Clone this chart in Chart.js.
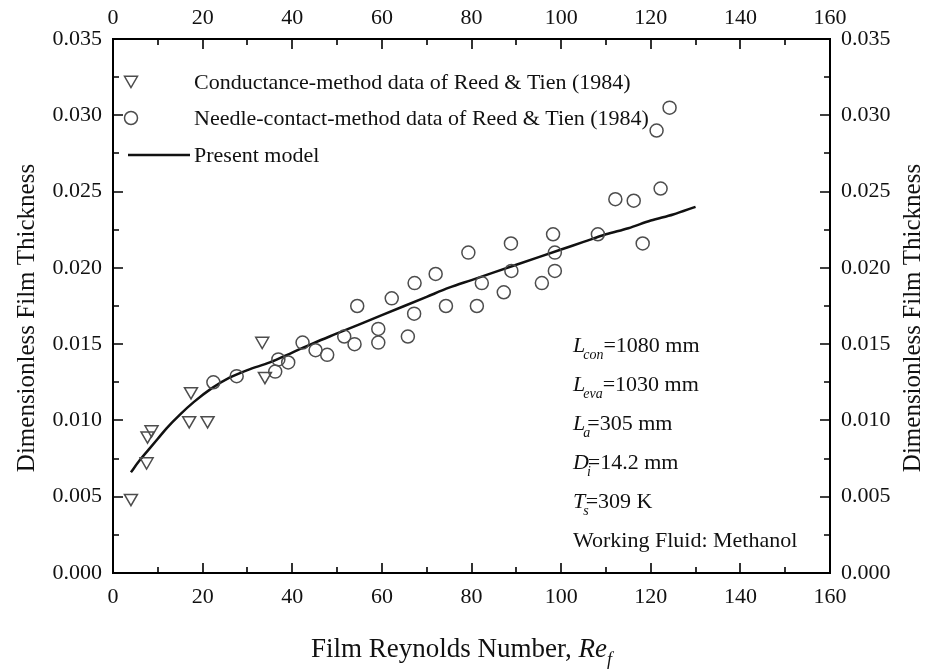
<!DOCTYPE html>
<html>
<head>
<meta charset="utf-8">
<script src="https://cdn.jsdelivr.net/npm/chart.js@4.4.1/dist/chart.umd.min.js"></script>
<style>
    html, body { margin: 0; padding: 0; background: #fff; }
    #wrap { width: 941px; height: 669px; }
</style>
</head>
<body>
<div id="wrap"><canvas id="chart" width="941" height="669"></canvas></div>
<script>
// Conductance-method data (Reed & Tien, 1984)
const condRe = [4.0, 7.5, 7.7, 8.6, 17.0, 17.4, 21.1, 33.3, 33.9];
const condDelta = [0.0049, 0.0073, 0.0090, 0.0094, 0.0100, 0.0119, 0.0100, 0.0152, 0.0129];

// Needle-contact-method data (Reed & Tien, 1984)
const needleRe = [22.4, 27.6, 36.2, 36.9, 39.1, 42.3, 45.2, 47.8, 51.6, 53.9, 54.5, 59.2, 59.2, 62.2,
    65.8, 67.3, 67.2, 72.0, 74.3, 79.3, 82.3, 81.2, 88.8, 88.9, 87.2, 95.7, 98.2, 98.6, 98.6,
    108.2, 112.1, 116.2, 122.2, 118.2, 121.3, 124.2];
const needleDelta = [0.0125, 0.0129, 0.0132, 0.0140, 0.0138, 0.0151, 0.0146, 0.0143, 0.0155, 0.0150, 0.0175, 0.0160, 0.0151, 0.0180,
    0.0155, 0.0190, 0.0170, 0.0196, 0.0175, 0.0210, 0.0190, 0.0175, 0.0216, 0.0198, 0.0184, 0.0190, 0.0222, 0.0210, 0.0198,
    0.0222, 0.0245, 0.0244, 0.0252, 0.0216, 0.0290, 0.0305];

// Present model curve
const modelRe = [4, 6, 8, 10, 12, 15, 18, 22, 26, 30, 35, 40, 45, 50, 55, 60, 65, 70, 75, 80,
    85, 90, 95, 100, 105, 110, 115, 120, 125, 130];
const modelDelta = [0.0066, 0.0074, 0.0081, 0.0088, 0.0095, 0.0104, 0.0112, 0.0121, 0.0128, 0.0133, 0.0138, 0.01445, 0.0151, 0.0157, 0.0163,
    0.0169, 0.0175, 0.0181, 0.0187, 0.0192, 0.0197, 0.0202, 0.0207, 0.0212, 0.0217, 0.0222, 0.0226, 0.0231, 0.0235, 0.0240];

const legendLabels = [
    'Conductance-method data of Reed & Tien (1984)',
    'Needle-contact-method data of Reed & Tien (1984)',
    'Present model'
];

// parameter block: [symbol, subscript, rest]
const paramLines = [
    ['L', 'con', '=1080 mm'],
    ['L', 'eva', '=1030 mm'],
    ['L', 'a', '=305 mm'],
    ['D', 'i', '=14.2 mm'],
    ['T', 's', '=309 K'],
    ['', '', 'Working Fluid: Methanol']
];

const reMin = 0, reMax = 160, reStep = 20;
const deltaMin = 0, deltaMax = 0.035, deltaStep = 0.005;

const SERIF = '"Liberation Serif", "Times New Roman", serif';
const markColor = '#4d4d4d';

const pairs = (xs, ys) => xs.map((x, i) => ({ x: x, y: ys[i] }));

function tickFont(size) {
    return { family: SERIF, size: size };
}

function drawTriangle(ctx, x, y, r) {
    ctx.beginPath();
    ctx.moveTo(x, y + r);
    ctx.lineTo(x - r * Math.sin(Math.PI / 3), y - r / 2);
    ctx.lineTo(x + r * Math.sin(Math.PI / 3), y - r / 2);
    ctx.closePath();
    ctx.stroke();
}

// inward major/minor tick marks on all four sides
const innerTicks = {
    id: 'innerTicks',
    afterDatasetsDraw(chart) {
        const { ctx, chartArea: a, scales } = chart;
        ctx.save();
        ctx.strokeStyle = '#000';
        ctx.lineWidth = 1.6;
        ctx.beginPath();
        for (let v = reMin; v <= reMax; v += reStep / 2) {
            const x = Math.round(scales.x.getPixelForValue(v));
            const len = v % reStep === 0 ? 10 : 6;
            ctx.moveTo(x, a.bottom); ctx.lineTo(x, a.bottom - len);
            ctx.moveTo(x, a.top); ctx.lineTo(x, a.top + len);
        }
        const n = Math.round((deltaMax - deltaMin) / (deltaStep / 2));
        for (let i = 0; i <= n; i++) {
            const v = deltaMin + i * deltaStep / 2;
            const y = Math.round(scales.y.getPixelForValue(v));
            const len = i % 2 === 0 ? 10 : 6;
            ctx.moveTo(a.left, y); ctx.lineTo(a.left + len, y);
            ctx.moveTo(a.right, y); ctx.lineTo(a.right - len, y);
        }
        ctx.stroke();
        ctx.restore();
    }
};

// axis titles, legend and parameter block
const decorations = {
    id: 'decorations',
    afterDraw(chart) {
        const { ctx, chartArea: a } = chart;
        ctx.save();
        ctx.fillStyle = '#111';

        // y titles on both sides, reading upwards
        ctx.font = '25px ' + SERIF;
        ctx.textAlign = 'center';
        ctx.textBaseline = 'middle';
        [27, 913].forEach(cx => {
            ctx.save();
            ctx.translate(cx, 318);
            ctx.rotate(-Math.PI / 2);
            ctx.fillText('Dimensionless Film Thickness', 0, 0);
            ctx.restore();
        });

        // x title with italic Re_f
        ctx.textAlign = 'left';
        ctx.textBaseline = 'alphabetic';
        const part1 = 'Film Reynolds Number, ';
        ctx.font = '27px ' + SERIF;
        const w1 = ctx.measureText(part1).width;
        ctx.font = 'italic 27px ' + SERIF;
        const w2 = ctx.measureText('Re').width;
        ctx.font = 'italic 18px ' + SERIF;
        const w3 = ctx.measureText('f').width;
        let tx = (a.left + a.right) / 2 - (w1 + w2 + w3) / 2 - 10;
        const ty = 657;
        ctx.font = '27px ' + SERIF;
        ctx.fillText(part1, tx, ty);
        tx += w1;
        ctx.font = 'italic 27px ' + SERIF;
        ctx.fillText('Re', tx, ty);
        tx += w2;
        ctx.font = 'italic 18px ' + SERIF;
        ctx.fillText('f', tx, ty + 8);

        // legend
        ctx.strokeStyle = markColor;
        ctx.lineWidth = 1.5;
        drawTriangle(ctx, 131, 80, 7.5);
        ctx.beginPath();
        ctx.arc(131, 118, 6.5, 0, Math.PI * 2);
        ctx.stroke();
        ctx.strokeStyle = '#111';
        ctx.lineWidth = 2.5;
        ctx.beginPath();
        ctx.moveTo(128, 155);
        ctx.lineTo(190, 155);
        ctx.stroke();
        ctx.font = '22px ' + SERIF;
        ctx.textBaseline = 'middle';
        legendLabels.forEach((t, i) => {
            ctx.fillText(t, 194, [83, 119, 156][i]);
        });

        // parameter block
        ctx.textBaseline = 'alphabetic';
        paramLines.forEach((p, i) => {
            let x = 573;
            const y = 352 + i * 39;
            if (p[0]) {
                ctx.font = 'italic 22px ' + SERIF;
                ctx.fillText(p[0], x, y);
                x += ctx.measureText(p[0]).width - 2;
                ctx.font = 'italic 14px ' + SERIF;
                ctx.fillText(p[1], x, y + 7);
                x += ctx.measureText(p[1]).width - (p[1].length === 1 ? 3 : 0);
            }
            ctx.font = '22px ' + SERIF;
            ctx.fillText(p[2], x, y);
        });
        ctx.restore();
    }
};

const fixedSize = (w, h) => function (scale) {
    if (w !== null) scale.width = w;
    if (h !== null) scale.height = h;
};

const axisBorder = { display: true, color: '#000', width: 2 };

new Chart(document.getElementById('chart'), {
    type: 'scatter',
    data: {
        datasets: [
            {
                label: legendLabels[0],
                data: pairs(condRe, condDelta),
                pointStyle: 'triangle',
                rotation: 180,
                pointRadius: 7.5,
                pointBorderWidth: 1.5,
                borderColor: markColor,
                backgroundColor: 'rgba(0,0,0,0)',
                showLine: false
            },
            {
                label: legendLabels[1],
                data: pairs(needleRe, needleDelta),
                pointStyle: 'circle',
                pointRadius: 6.5,
                pointBorderWidth: 1.5,
                borderColor: markColor,
                backgroundColor: 'rgba(0,0,0,0)',
                showLine: false
            },
            {
                label: legendLabels[2],
                data: pairs(modelRe, modelDelta),
                showLine: true,
                pointRadius: 0,
                borderColor: '#111',
                borderWidth: 2.5,
                cubicInterpolationMode: 'monotone'
            }
        ]
    },
    options: {
        responsive: false,
        animation: false,
        layout: { padding: 0 },
        plugins: {
            legend: { display: false },
            tooltip: { enabled: false }
        },
        scales: {
            x: {
                type: 'linear', position: 'bottom',
                min: reMin, max: reMax,
                ticks: { stepSize: reStep, color: '#111', font: tickFont(22), padding: 11, maxRotation: 0 },
                grid: { display: false, drawTicks: false },
                border: axisBorder,
                afterFit: fixedSize(null, 96)
            },
            x2: {
                type: 'linear', position: 'top',
                min: reMin, max: reMax,
                ticks: { stepSize: reStep, color: '#111', font: tickFont(22), padding: 8, maxRotation: 0 },
                grid: { display: false, drawTicks: false },
                border: axisBorder,
                afterFit: fixedSize(null, 39)
            },
            y: {
                type: 'linear', position: 'left',
                min: deltaMin, max: deltaMax,
                ticks: { stepSize: deltaStep, color: '#111', font: tickFont(22), padding: 11,
                    callback: v => v.toFixed(3) },
                grid: { display: false, drawTicks: false },
                border: axisBorder,
                afterFit: fixedSize(113, null)
            },
            y2: {
                type: 'linear', position: 'right',
                min: deltaMin, max: deltaMax,
                ticks: { stepSize: deltaStep, color: '#111', font: tickFont(22), padding: 11,
                    callback: v => v.toFixed(3) },
                grid: { display: false, drawTicks: false },
                border: axisBorder,
                afterFit: fixedSize(111, null)
            }
        }
    },
    plugins: [innerTicks, decorations]
});
</script>
</body>
</html>
